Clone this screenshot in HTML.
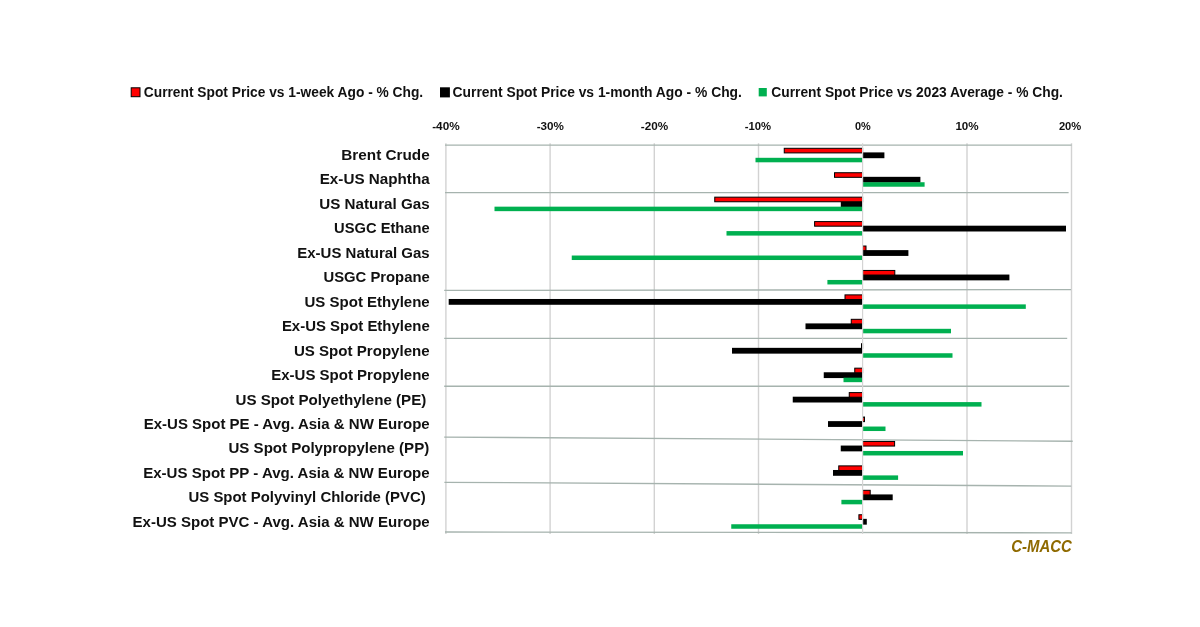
<!DOCTYPE html>
<html lang="en"><head><meta charset="utf-8"><title>Spot price changes</title>
<style>html,body{margin:0;padding:0;background:#fff;}body{width:1200px;height:627px;overflow:hidden;}body{position:relative;}svg{display:block;position:absolute;left:0;top:0;}svg.tx{will-change:transform;}text{font-family:"Liberation Sans",Arial,sans-serif;font-weight:bold;fill:#111;}.cat{font-size:15.3px;}.leg{font-size:13.8px;}.ax{font-size:10.6px;}.brand{font-size:15.8px;font-style:italic;fill:#8f6a00;}</style></head><body>
<svg width="1200" height="627" viewBox="0 0 1200 627">
<rect width="1200" height="627" fill="#ffffff"/>
<line x1="445.90" y1="143.3" x2="445.90" y2="533.9" stroke="#d2d2d2" stroke-width="1.4"/>
<line x1="550.10" y1="143.3" x2="550.10" y2="533.9" stroke="#d2d2d2" stroke-width="1.4"/>
<line x1="654.30" y1="143.3" x2="654.30" y2="533.9" stroke="#d2d2d2" stroke-width="1.4"/>
<line x1="758.50" y1="143.3" x2="758.50" y2="533.9" stroke="#d2d2d2" stroke-width="1.4"/>
<line x1="967.00" y1="143.3" x2="967.00" y2="533.9" stroke="#d2d2d2" stroke-width="1.4"/>
<line x1="1071.50" y1="143.3" x2="1071.50" y2="533.9" stroke="#d2d2d2" stroke-width="1.4"/>
<line x1="445.0" y1="145.1" x2="1071.6" y2="145.1" stroke="#a6b3ae" stroke-width="1.45"/>
<line x1="445.0" y1="192.6" x2="1068.6" y2="192.6" stroke="#a6b3ae" stroke-width="1.35"/>
<line x1="444.2" y1="290.4" x2="1071.0" y2="289.6" stroke="#a6b3ae" stroke-width="1.35"/>
<line x1="444.2" y1="338.3" x2="1067.2" y2="338.3" stroke="#a6b3ae" stroke-width="1.35"/>
<line x1="444.2" y1="386.2" x2="1069.3" y2="386.2" stroke="#a6b3ae" stroke-width="1.35"/>
<line x1="444.2" y1="437.1" x2="1072.7" y2="441.2" stroke="#a6b3ae" stroke-width="1.35"/>
<line x1="444.4" y1="482.3" x2="1071.2" y2="486.1" stroke="#a6b3ae" stroke-width="1.35"/>
<line x1="445.0" y1="532.0" x2="1071.6" y2="532.8" stroke="#a6b3ae" stroke-width="1.35"/>
<rect x="862.60" y="152.40" width="21.80" height="5.8" fill="#000"/>
<rect x="755.50" y="157.80" width="107.10" height="4.5" fill="#00b050"/>
<rect x="784.25" y="148.30" width="78.35" height="4.6" fill="#ff0000" stroke="#000" stroke-width="1"/>
<rect x="862.60" y="176.83" width="57.80" height="5.8" fill="#000"/>
<rect x="862.60" y="182.23" width="62.00" height="4.5" fill="#00b050"/>
<rect x="834.50" y="172.73" width="28.10" height="4.6" fill="#ff0000" stroke="#000" stroke-width="1"/>
<rect x="840.80" y="201.26" width="21.80" height="5.8" fill="#000"/>
<rect x="494.50" y="206.66" width="368.10" height="4.5" fill="#00b050"/>
<rect x="714.75" y="197.16" width="147.85" height="4.6" fill="#ff0000" stroke="#000" stroke-width="1"/>
<rect x="862.60" y="225.69" width="203.40" height="5.8" fill="#000"/>
<rect x="726.50" y="231.09" width="136.10" height="4.5" fill="#00b050"/>
<rect x="814.60" y="221.59" width="48.00" height="4.6" fill="#ff0000" stroke="#000" stroke-width="1"/>
<rect x="862.60" y="250.12" width="45.80" height="5.8" fill="#000"/>
<rect x="571.75" y="255.52" width="290.85" height="4.5" fill="#00b050"/>
<rect x="862.60" y="246.02" width="3.40" height="4.6" fill="#ff0000" stroke="#000" stroke-width="1"/>
<rect x="862.60" y="274.55" width="146.80" height="5.8" fill="#000"/>
<rect x="827.40" y="279.95" width="35.20" height="4.5" fill="#00b050"/>
<rect x="862.60" y="270.45" width="32.20" height="4.6" fill="#ff0000" stroke="#000" stroke-width="1"/>
<rect x="448.70" y="298.98" width="413.90" height="5.8" fill="#000"/>
<rect x="862.60" y="304.38" width="163.20" height="4.5" fill="#00b050"/>
<rect x="845.00" y="294.88" width="17.60" height="4.6" fill="#ff0000" stroke="#000" stroke-width="1"/>
<rect x="805.50" y="323.41" width="57.10" height="5.8" fill="#000"/>
<rect x="862.60" y="328.81" width="88.40" height="4.5" fill="#00b050"/>
<rect x="851.25" y="319.31" width="11.35" height="4.6" fill="#ff0000" stroke="#000" stroke-width="1"/>
<rect x="732.00" y="347.84" width="130.60" height="5.8" fill="#000"/>
<rect x="862.60" y="353.24" width="89.90" height="4.5" fill="#00b050"/>
<rect x="861.50" y="343.74" width="1.10" height="4.6" fill="#ff0000" stroke="#000" stroke-width="1"/>
<rect x="823.75" y="372.27" width="38.85" height="5.8" fill="#000"/>
<rect x="843.50" y="377.67" width="19.10" height="4.5" fill="#00b050"/>
<rect x="854.75" y="368.17" width="7.85" height="4.6" fill="#ff0000" stroke="#000" stroke-width="1"/>
<rect x="792.75" y="396.70" width="69.85" height="5.8" fill="#000"/>
<rect x="862.60" y="402.10" width="118.90" height="4.5" fill="#00b050"/>
<rect x="849.25" y="392.60" width="13.35" height="4.6" fill="#ff0000" stroke="#000" stroke-width="1"/>
<rect x="828.00" y="421.13" width="34.60" height="5.8" fill="#000"/>
<rect x="862.60" y="426.53" width="22.90" height="4.5" fill="#00b050"/>
<rect x="862.60" y="417.03" width="1.90" height="4.6" fill="#ff0000" stroke="#000" stroke-width="1"/>
<rect x="840.75" y="445.56" width="21.85" height="5.8" fill="#000"/>
<rect x="862.60" y="450.96" width="100.40" height="4.5" fill="#00b050"/>
<rect x="862.60" y="441.46" width="32.00" height="4.6" fill="#ff0000" stroke="#000" stroke-width="1"/>
<rect x="833.00" y="469.99" width="29.60" height="5.8" fill="#000"/>
<rect x="862.60" y="475.39" width="35.50" height="4.5" fill="#00b050"/>
<rect x="838.75" y="465.89" width="23.85" height="4.6" fill="#ff0000" stroke="#000" stroke-width="1"/>
<rect x="862.60" y="494.42" width="30.10" height="5.8" fill="#000"/>
<rect x="841.40" y="499.82" width="21.20" height="4.5" fill="#00b050"/>
<rect x="862.60" y="490.32" width="7.60" height="4.6" fill="#ff0000" stroke="#000" stroke-width="1"/>
<rect x="862.60" y="518.85" width="4.20" height="5.8" fill="#000"/>
<rect x="731.25" y="524.25" width="131.35" height="4.5" fill="#00b050"/>
<rect x="858.90" y="514.75" width="3.70" height="4.6" fill="#ff0000" stroke="#000" stroke-width="1"/>
<line x1="862.6" y1="143.3" x2="862.6" y2="533.9" stroke="#d4d4d4" stroke-width="1.2"/>
</svg>
<svg class="tx" width="1200" height="627" viewBox="0 0 1200 627">
<text class="cat" x="341.3" y="160.0" textLength="88.4" lengthAdjust="spacingAndGlyphs">Brent Crude</text>
<text class="cat" x="319.7" y="184.4" textLength="110.0" lengthAdjust="spacingAndGlyphs">Ex-US Naphtha</text>
<text class="cat" x="319.2" y="208.9" textLength="110.5" lengthAdjust="spacingAndGlyphs">US Natural Gas</text>
<text class="cat" x="334.1" y="233.3" textLength="95.6" lengthAdjust="spacingAndGlyphs">USGC Ethane</text>
<text class="cat" x="297.3" y="257.8" textLength="132.4" lengthAdjust="spacingAndGlyphs">Ex-US Natural Gas</text>
<text class="cat" x="323.5" y="282.2" textLength="106.2" lengthAdjust="spacingAndGlyphs">USGC Propane</text>
<text class="cat" x="304.5" y="306.7" textLength="125.2" lengthAdjust="spacingAndGlyphs">US Spot Ethylene</text>
<text class="cat" x="281.9" y="331.1" textLength="147.8" lengthAdjust="spacingAndGlyphs">Ex-US Spot Ethylene</text>
<text class="cat" x="293.9" y="355.6" textLength="135.8" lengthAdjust="spacingAndGlyphs">US Spot Propylene</text>
<text class="cat" x="271.2" y="380.0" textLength="158.5" lengthAdjust="spacingAndGlyphs">Ex-US Spot Propylene</text>
<text class="cat" x="235.5" y="404.5" textLength="190.8" lengthAdjust="spacingAndGlyphs">US Spot Polyethylene (PE)</text>
<text class="cat" x="143.7" y="428.9" textLength="286.0" lengthAdjust="spacingAndGlyphs">Ex-US Spot PE - Avg. Asia &amp; NW Europe</text>
<text class="cat" x="228.5" y="453.4" textLength="200.7" lengthAdjust="spacingAndGlyphs">US Spot Polypropylene (PP)</text>
<text class="cat" x="143.2" y="477.8" textLength="286.5" lengthAdjust="spacingAndGlyphs">Ex-US Spot PP - Avg. Asia &amp; NW Europe</text>
<text class="cat" x="188.5" y="502.3" textLength="237.2" lengthAdjust="spacingAndGlyphs">US Spot Polyvinyl Chloride (PVC)</text>
<text class="cat" x="132.5" y="526.8" textLength="297.2" lengthAdjust="spacingAndGlyphs">Ex-US Spot PVC - Avg. Asia &amp; NW Europe</text>
<rect x="131.2" y="87.8" width="8.8" height="8.9" fill="#ff0000" stroke="#000" stroke-width="1"/>
<text class="leg" x="143.8" y="97.45" textLength="279.4" lengthAdjust="spacingAndGlyphs">Current Spot Price vs 1-week Ago - % Chg.</text>
<rect x="440" y="87.3" width="9.9" height="10.1" fill="#000"/>
<text class="leg" x="452.6" y="97.45" textLength="289.3" lengthAdjust="spacingAndGlyphs">Current Spot Price vs 1-month Ago - % Chg.</text>
<rect x="758.7" y="88" width="8.1" height="8.4" fill="#00b050"/>
<text class="leg" x="771.3" y="97.45" textLength="291.6" lengthAdjust="spacingAndGlyphs">Current Spot Price vs 2023 Average - % Chg.</text>
<text class="ax" x="432.2" y="130.1" textLength="27.5" lengthAdjust="spacingAndGlyphs">-40%</text>
<text class="ax" x="536.7" y="130.1" textLength="27.2" lengthAdjust="spacingAndGlyphs">-30%</text>
<text class="ax" x="640.8" y="130.1" textLength="27.4" lengthAdjust="spacingAndGlyphs">-20%</text>
<text class="ax" x="744.7" y="130.1" textLength="26.4" lengthAdjust="spacingAndGlyphs">-10%</text>
<text class="ax" x="854.9" y="130.1" textLength="15.8" lengthAdjust="spacingAndGlyphs">0%</text>
<text class="ax" x="955.4" y="130.1" textLength="23.3" lengthAdjust="spacingAndGlyphs">10%</text>
<text class="ax" x="1058.9" y="130.1" textLength="22.4" lengthAdjust="spacingAndGlyphs">20%</text>
<text class="brand" x="1011.2" y="551.6" textLength="60.6" lengthAdjust="spacingAndGlyphs">C-MACC</text>
</svg></body></html>
